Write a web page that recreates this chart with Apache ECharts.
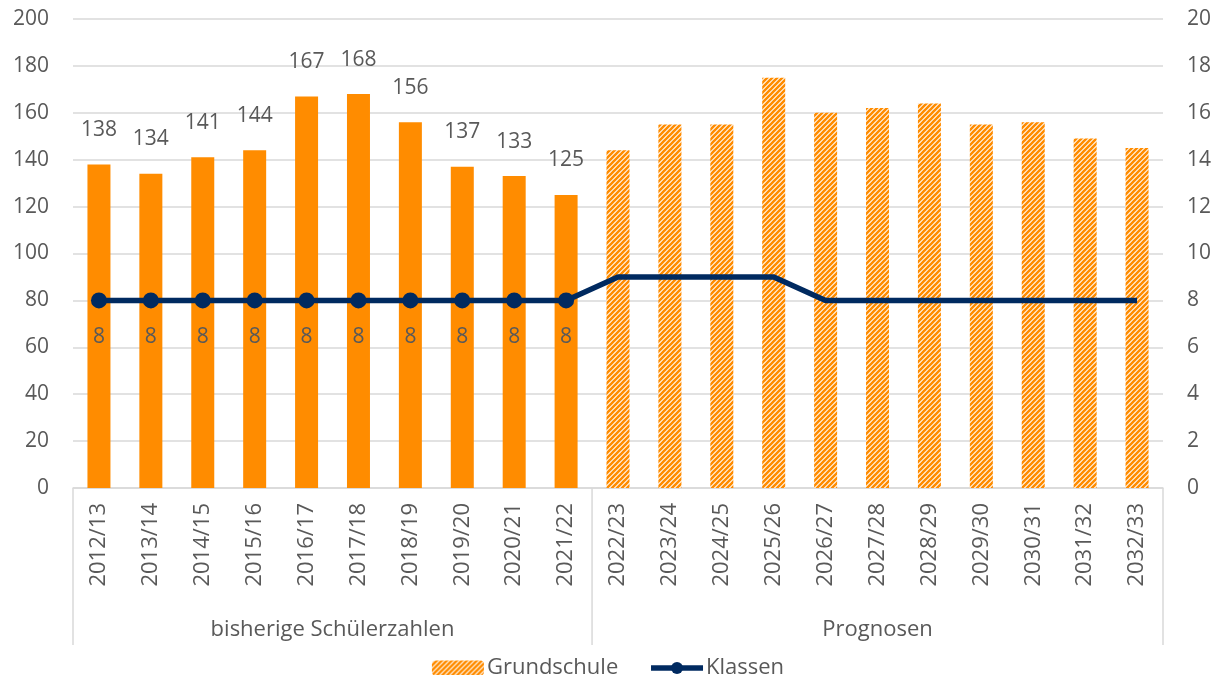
<!DOCTYPE html>
<html>
<head>
<meta charset="utf-8">
<script src="https://cdn.jsdelivr.net/npm/echarts@6/dist/echarts.min.js"></script>
<style>
html,body{margin:0;padding:0;background:#fff;}
#chart{width:1216px;height:675px;}
</style>
</head>
<body>
<div id="chart"></div>
<script>
// ---- data ----
const categories = ['2012/13','2013/14','2014/15','2015/16','2016/17','2017/18','2018/19','2019/20','2020/21','2021/22',
  '2022/23','2023/24','2024/25','2025/26','2026/27','2027/28','2028/29','2029/30','2030/31','2031/32','2032/33'];
const grundschule = [138,134,141,144,167,168,156,137,133,125, 144,155,155,175,160,162,164,155,156,149,145];
const klassen = [8,8,8,8,8,8,8,8,8,8, 9,9,9,9,8,8,8,8,8,8,8];
const historicalCount = 10;
const groups = ['bisherige Schülerzahlen','Prognosen'];
const leftTicks = {min:0,max:200,interval:20};
const rightTicks = {min:0,max:20,interval:2};

const ORANGE = '#FF8C00';
const NAVY = '#002A60';
const TXT = '#595959';
const GRID = '#D9D9D9';
const FONT = 'Open Sans';

// hatched pattern
function makePattern(){
  const s = 5;
  const c = document.createElement('canvas');
  c.width = s; c.height = s;
  const g = c.getContext('2d');
  g.fillStyle = '#fff'; g.fillRect(0,0,s,s);
  g.strokeStyle = ORANGE; g.lineWidth = 2.6; g.lineCap = 'square';
  g.beginPath();
  g.moveTo(-1, s+1); g.lineTo(s+1, -1);
  g.moveTo(-1-s, s+1); g.lineTo(1, -1);
  g.moveTo(s-1, s+1); g.lineTo(2*s+1, -1);
  g.stroke();
  return {image: c, repeat: 'repeat'};
}
const pattern = makePattern();

const barData = grundschule.map((v,i)=> i < historicalCount
  ? {value:v, itemStyle:{color:ORANGE}, label:{show:true}}
  : {value:v});
const lineData = klassen.map((v,i)=> i < historicalCount
  ? {value:v, symbol:'circle', symbolSize:16, label:{show:true}}
  : {value:v, symbol:'none'});

const chart = echarts.init(document.getElementById('chart'));
const option = {
  animation:false,
  textStyle:{fontFamily:FONT},
  grid:{left:73,right:53,top:19,bottom:187,containLabel:false},
  legend:{
    top:652,left:'center',itemGap:30,itemWidth:52,itemHeight:15,
    textStyle:{color:TXT,fontSize:22,fontFamily:FONT,padding:[0,0,0,-2]},
    data:[{name:'Grundschule'},{name:'Klassen',lineStyle:{width:5.5},itemStyle:{color:NAVY}}]
  },
  xAxis:{
    type:'category',data:categories,boundaryGap:true,
    axisLine:{show:true,lineStyle:{color:GRID,width:1.5}},
    axisTick:{show:false},
    axisLabel:{rotate:90,color:TXT,fontSize:22,fontFamily:FONT,margin:15,interval:0}
  },
  yAxis:[
    {type:'value',min:leftTicks.min,max:leftTicks.max,interval:leftTicks.interval,
     axisLine:{show:false},axisTick:{show:false},
     splitLine:{lineStyle:{color:GRID,width:1.5}},
     axisLabel:{color:TXT,fontSize:21,fontFamily:FONT,margin:24}},
    {type:'value',min:rightTicks.min,max:rightTicks.max,interval:rightTicks.interval,
     axisLine:{show:false},axisTick:{show:false},splitLine:{show:false},
     axisLabel:{color:TXT,fontSize:21,fontFamily:FONT,margin:24}}
  ],
  series:[
    {name:'Grundschule',type:'bar',data:barData,barWidth:23,
     itemStyle:{color:pattern},
     label:{show:false,position:'top',distance:24,color:TXT,fontSize:21,fontFamily:FONT}},
    {name:'Klassen',type:'line',yAxisIndex:1,data:lineData,
     lineStyle:{color:NAVY,width:5.5},itemStyle:{color:NAVY},
     symbol:'circle',symbolSize:16,
     label:{show:false,position:'bottom',distance:18,color:TXT,fontSize:21,fontFamily:FONT},
     z:5}
  ]
};
chart.setOption(option);

// group labels and separators from the axis scale
const c0 = chart.convertToPixel({xAxisIndex:0}, 0);
const c1 = chart.convertToPixel({xAxisIndex:0}, 1);
const band = c1 - c0;
const yAxisPx = chart.convertToPixel({yAxisIndex:0}, 0);
const bounds = [c0 - band/2, chart.convertToPixel({xAxisIndex:0}, historicalCount) - band/2,
  chart.convertToPixel({xAxisIndex:0}, categories.length-1) + band/2];
const graphics = [];
bounds.forEach(x=>{
  graphics.push({type:'line',shape:{x1:x,y1:yAxisPx,x2:x,y2:yAxisPx+157},
    style:{stroke:GRID,lineWidth:1.5},silent:true});
});
for(let g=0; g<2; g++){
  graphics.push({type:'text',x:(bounds[g]+bounds[g+1])/2,y:yAxisPx+142,
    style:{text:groups[g],fill:TXT,fontSize:22,fontFamily:FONT,align:'center',verticalAlign:'middle'},silent:true});
}
chart.setOption({graphic:graphics});
</script>
</body>
</html>
